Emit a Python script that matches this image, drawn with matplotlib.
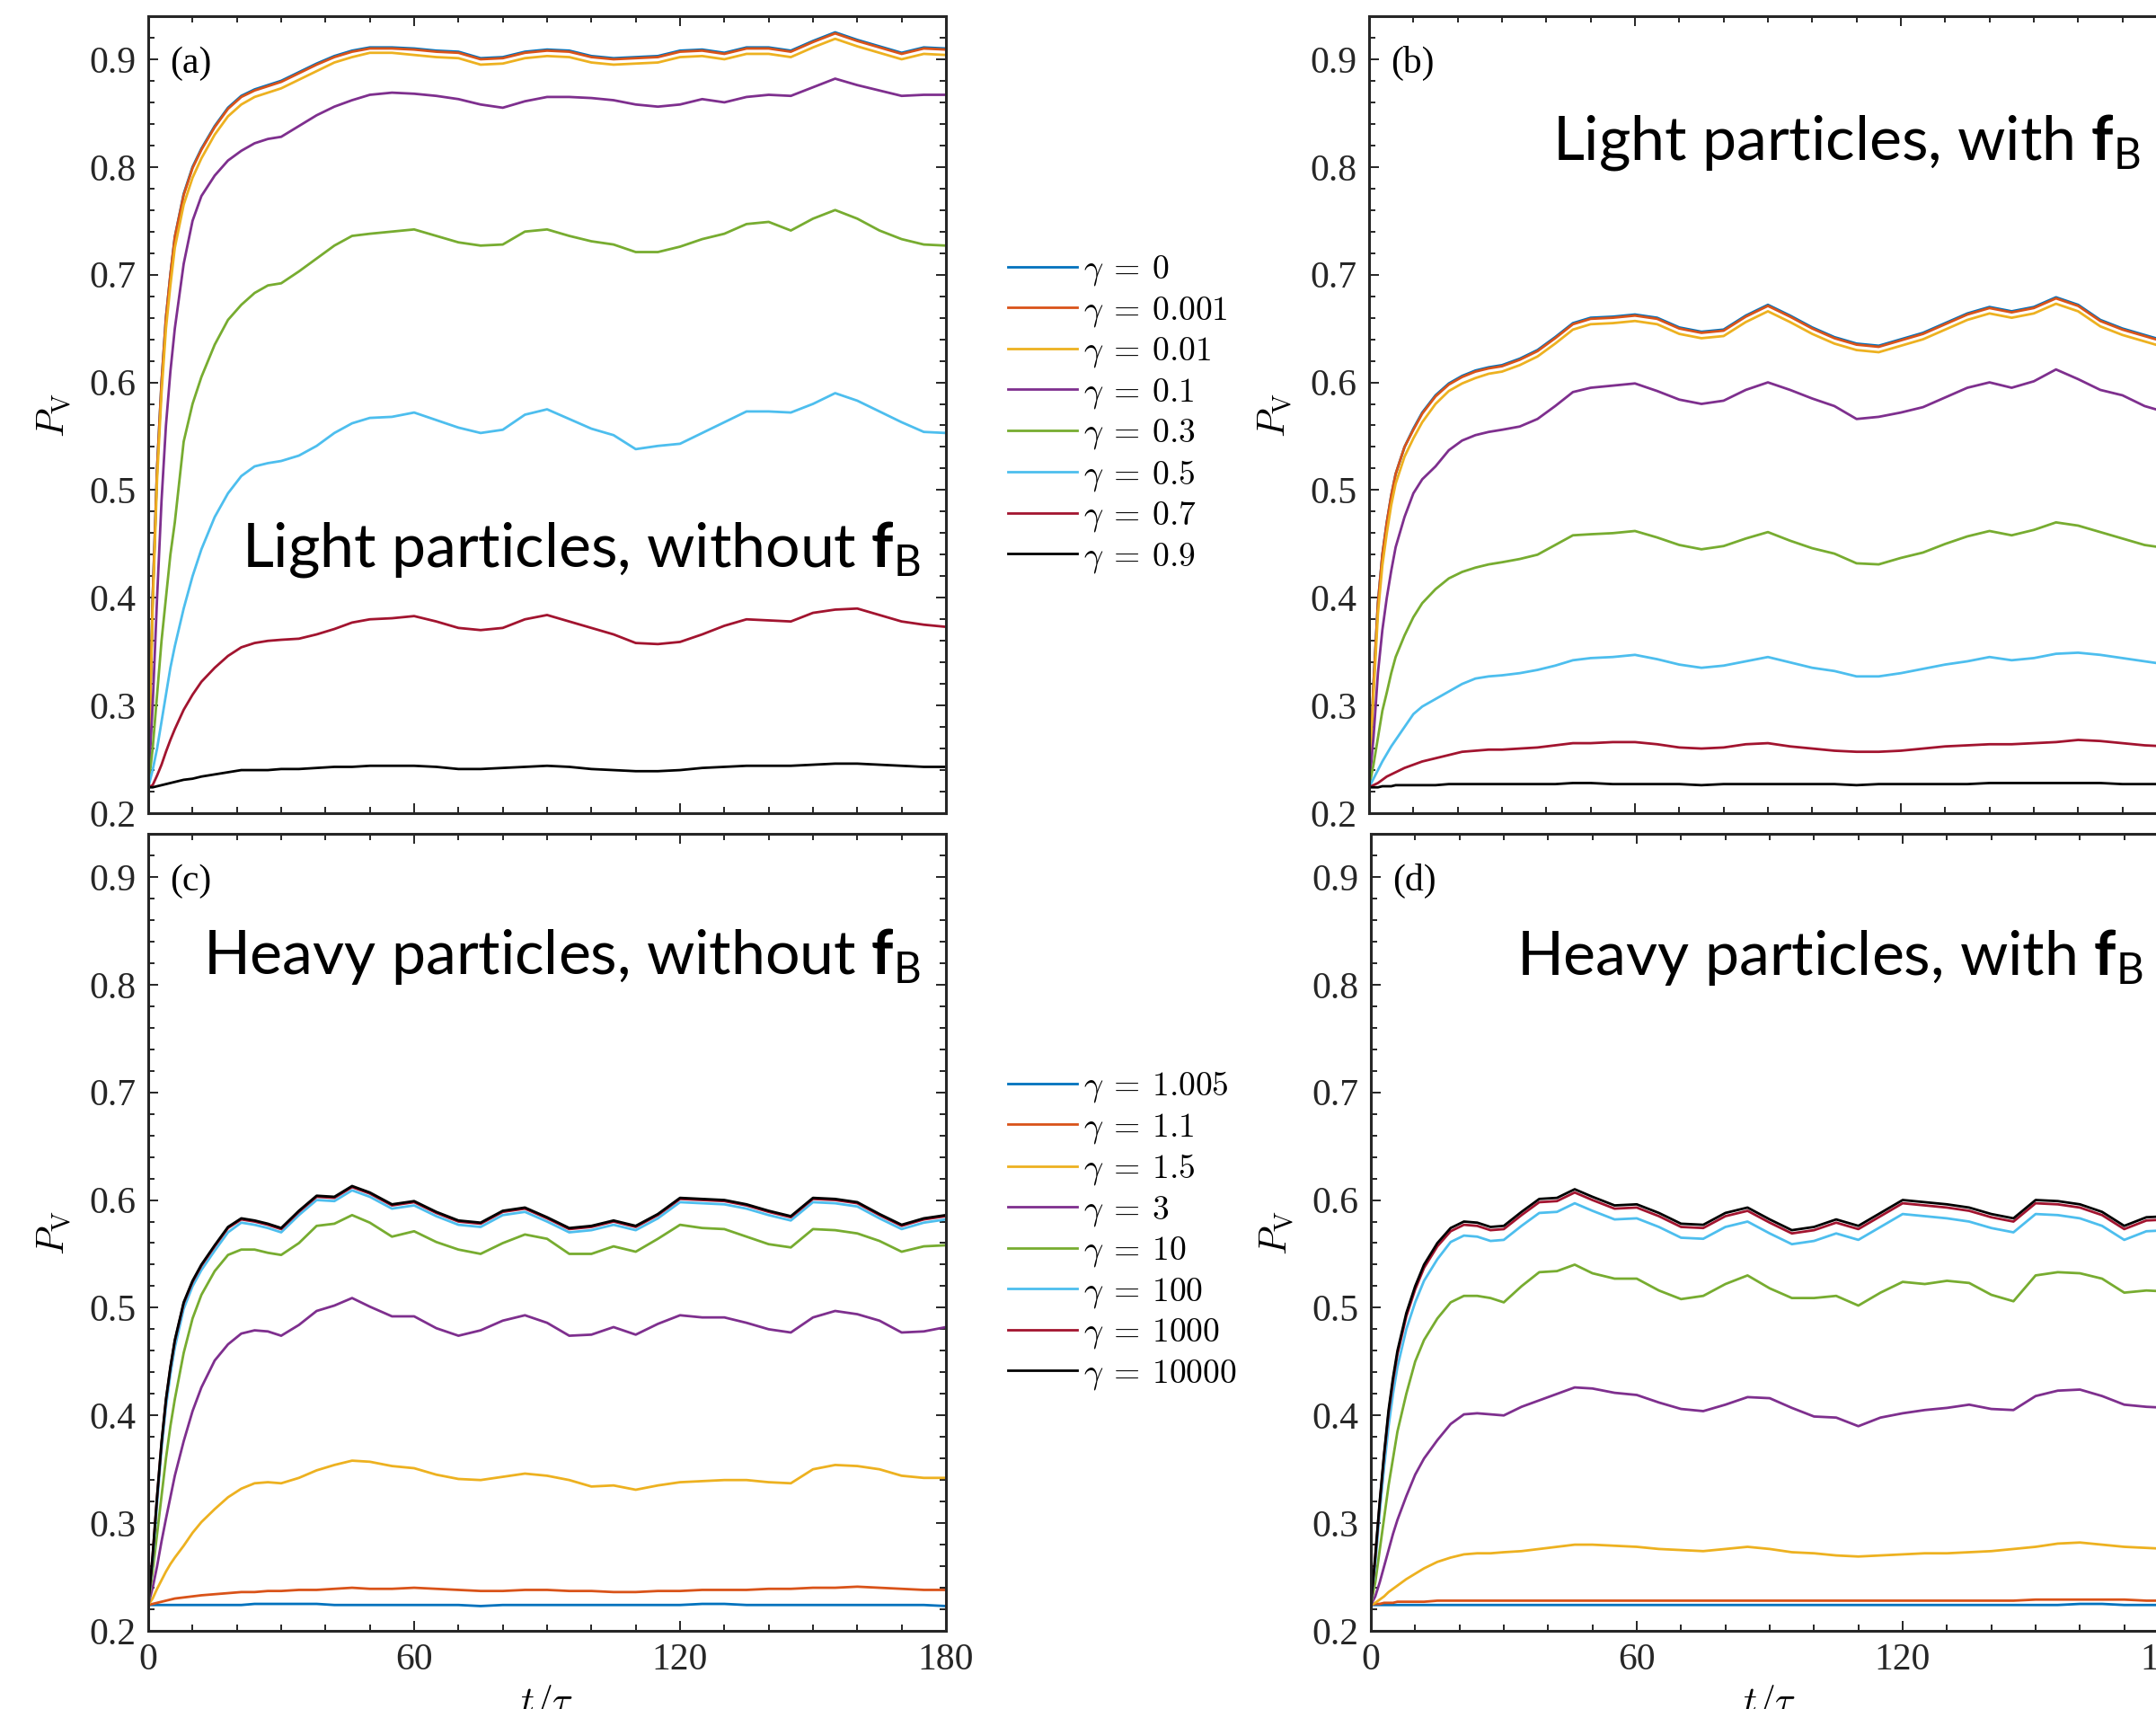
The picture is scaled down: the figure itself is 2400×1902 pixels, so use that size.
import matplotlib
matplotlib.use('Agg')
import matplotlib.pyplot as plt
from matplotlib.ticker import MultipleLocator

# time axis t/tau shared by every curve
t = [0, 1, 2, 3, 4, 5, 6, 8, 10, 12, 15, 18, 21, 24, 27, 30, 34, 38, 42, 46,
     50, 55, 60, 65, 70, 75, 80, 85, 90, 95, 100, 105, 110, 115, 120, 125, 130,
     135, 140, 145, 150, 155, 160, 165, 170, 175, 180]

# line colours (same order as the legend entries)
colors = ['#0072BD', '#D95319', '#EDB120', '#7E2F8E', '#77AC30', '#4DBEEE', '#A2142F', '#000000']

light_gammas = ['0', '0.001', '0.01', '0.1', '0.3', '0.5', '0.7', '0.9']
heavy_gammas = ['1.005', '1.1', '1.5', '3', '10', '100', '1000', '10000']

# (a) light particles, without f_B
a_g0 = [0.224, 0.40, 0.52, 0.60, 0.66, 0.70, 0.735, 0.775, 0.80, 0.817, 0.838, 0.855, 0.866, 0.872, 0.876, 0.880, 0.888, 0.896, 0.903, 0.908,
        0.911, 0.911, 0.910, 0.908, 0.907, 0.901, 0.902, 0.907, 0.909, 0.908, 0.903, 0.901, 0.902, 0.903, 0.908, 0.909, 0.906, 0.911, 0.911, 0.908, 0.917, 0.925, 0.918, 0.912, 0.906, 0.911, 0.910]
a_g1 = [0.224, 0.40, 0.52, 0.60, 0.66, 0.70, 0.735, 0.774, 0.799, 0.816, 0.837, 0.854, 0.865, 0.871, 0.875, 0.879, 0.887, 0.895, 0.902, 0.907,
        0.910, 0.910, 0.909, 0.907, 0.906, 0.900, 0.901, 0.906, 0.908, 0.907, 0.902, 0.900, 0.901, 0.902, 0.907, 0.908, 0.905, 0.910, 0.910, 0.907, 0.916, 0.924, 0.917, 0.911, 0.905, 0.910, 0.909]
a_g2 = [0.224, 0.39, 0.51, 0.59, 0.65, 0.69, 0.725, 0.765, 0.79, 0.808, 0.830, 0.847, 0.858, 0.865, 0.869, 0.873, 0.881, 0.889, 0.897, 0.902,
        0.906, 0.906, 0.904, 0.902, 0.901, 0.895, 0.896, 0.901, 0.903, 0.902, 0.897, 0.895, 0.896, 0.897, 0.902, 0.903, 0.900, 0.905, 0.905, 0.902, 0.911, 0.919, 0.912, 0.906, 0.900, 0.905, 0.904]
a_g3 = [0.224, 0.30, 0.40, 0.49, 0.56, 0.61, 0.65, 0.71, 0.75, 0.773, 0.792, 0.806, 0.815, 0.822, 0.826, 0.828, 0.838, 0.848, 0.856, 0.862,
        0.867, 0.869, 0.868, 0.866, 0.863, 0.858, 0.855, 0.861, 0.865, 0.865, 0.864, 0.862, 0.858, 0.856, 0.858, 0.863, 0.860, 0.865, 0.867, 0.866, 0.874, 0.882, 0.876, 0.871, 0.866, 0.867, 0.867]
a_g4 = [0.224, 0.26, 0.31, 0.36, 0.40, 0.44, 0.47, 0.545, 0.58, 0.605, 0.635, 0.658, 0.672, 0.683, 0.690, 0.692, 0.703, 0.715, 0.727, 0.736,
        0.738, 0.740, 0.742, 0.736, 0.730, 0.727, 0.728, 0.740, 0.742, 0.736, 0.731, 0.728, 0.721, 0.721, 0.726, 0.733, 0.738, 0.747, 0.749, 0.741, 0.752, 0.760, 0.752, 0.741, 0.733, 0.728, 0.727]
a_g5 = [0.224, 0.24, 0.26, 0.285, 0.31, 0.335, 0.355, 0.39, 0.42, 0.445, 0.475, 0.497, 0.513, 0.522, 0.525, 0.527, 0.532, 0.541, 0.553, 0.562,
        0.567, 0.568, 0.572, 0.565, 0.558, 0.553, 0.556, 0.570, 0.575, 0.566, 0.557, 0.551, 0.538, 0.541, 0.543, 0.553, 0.563, 0.573, 0.573, 0.572, 0.580, 0.590, 0.583, 0.573, 0.563, 0.554, 0.553]
a_g6 = [0.224, 0.226, 0.235, 0.245, 0.257, 0.268, 0.278, 0.296, 0.310, 0.322, 0.335, 0.346, 0.354, 0.358, 0.360, 0.361, 0.362, 0.366, 0.371, 0.377,
        0.380, 0.381, 0.383, 0.378, 0.372, 0.370, 0.372, 0.380, 0.384, 0.378, 0.372, 0.366, 0.358, 0.357, 0.359, 0.366, 0.374, 0.380, 0.379, 0.378, 0.386, 0.389, 0.390, 0.384, 0.378, 0.375, 0.373]
a_g7 = [0.224, 0.224, 0.225, 0.226, 0.227, 0.228, 0.229, 0.231, 0.232, 0.234, 0.236, 0.238, 0.240, 0.240, 0.240, 0.241, 0.241, 0.242, 0.243, 0.243,
        0.244, 0.244, 0.244, 0.243, 0.241, 0.241, 0.242, 0.243, 0.244, 0.243, 0.241, 0.240, 0.239, 0.239, 0.240, 0.242, 0.243, 0.244, 0.244, 0.244, 0.245, 0.246, 0.246, 0.245, 0.244, 0.243, 0.243]

# (b) light particles, with f_B
b_g0 = [0.224, 0.32, 0.395, 0.44, 0.47, 0.495, 0.515, 0.54, 0.557, 0.572, 0.588, 0.599, 0.606, 0.611, 0.614, 0.616, 0.622, 0.630, 0.642, 0.655,
        0.660, 0.661, 0.663, 0.660, 0.651, 0.647, 0.649, 0.662, 0.672, 0.662, 0.651, 0.642, 0.636, 0.634, 0.640, 0.646, 0.655, 0.664, 0.670, 0.666, 0.670, 0.679, 0.672, 0.658, 0.650, 0.644, 0.638]
b_g1 = [0.224, 0.32, 0.395, 0.44, 0.47, 0.495, 0.515, 0.54, 0.556, 0.571, 0.587, 0.598, 0.605, 0.610, 0.613, 0.615, 0.621, 0.629, 0.641, 0.654,
        0.659, 0.660, 0.662, 0.659, 0.650, 0.646, 0.648, 0.661, 0.671, 0.661, 0.650, 0.641, 0.635, 0.633, 0.639, 0.645, 0.654, 0.663, 0.669, 0.665, 0.669, 0.678, 0.671, 0.657, 0.649, 0.643, 0.637]
b_g2 = [0.224, 0.31, 0.385, 0.43, 0.46, 0.486, 0.506, 0.531, 0.548, 0.563, 0.580, 0.592, 0.599, 0.604, 0.608, 0.610, 0.616, 0.624, 0.636, 0.649,
        0.654, 0.655, 0.657, 0.654, 0.645, 0.641, 0.643, 0.656, 0.666, 0.656, 0.645, 0.636, 0.630, 0.628, 0.634, 0.640, 0.649, 0.658, 0.664, 0.660, 0.664, 0.673, 0.666, 0.652, 0.644, 0.638, 0.632]
b_g3 = [0.224, 0.27, 0.33, 0.37, 0.40, 0.425, 0.447, 0.475, 0.497, 0.51, 0.522, 0.537, 0.546, 0.551, 0.554, 0.556, 0.559, 0.566, 0.578, 0.591,
        0.595, 0.597, 0.599, 0.592, 0.584, 0.580, 0.583, 0.593, 0.600, 0.593, 0.585, 0.578, 0.566, 0.568, 0.572, 0.577, 0.586, 0.595, 0.600, 0.595, 0.601, 0.612, 0.603, 0.593, 0.588, 0.578, 0.572]
b_g4 = [0.224, 0.245, 0.27, 0.295, 0.312, 0.33, 0.345, 0.365, 0.382, 0.395, 0.408, 0.418, 0.424, 0.428, 0.431, 0.433, 0.436, 0.440, 0.449, 0.458,
        0.459, 0.460, 0.462, 0.456, 0.449, 0.445, 0.448, 0.455, 0.461, 0.453, 0.446, 0.441, 0.432, 0.431, 0.437, 0.442, 0.450, 0.457, 0.462, 0.458, 0.463, 0.470, 0.467, 0.461, 0.455, 0.449, 0.446]
b_g5 = [0.224, 0.232, 0.240, 0.248, 0.255, 0.262, 0.268, 0.280, 0.292, 0.299, 0.306, 0.313, 0.320, 0.325, 0.327, 0.328, 0.330, 0.333, 0.337, 0.342,
        0.344, 0.345, 0.347, 0.343, 0.338, 0.335, 0.337, 0.341, 0.345, 0.340, 0.335, 0.332, 0.327, 0.327, 0.330, 0.334, 0.338, 0.341, 0.345, 0.342, 0.344, 0.348, 0.349, 0.347, 0.344, 0.341, 0.338]
b_g6 = [0.224, 0.226, 0.228, 0.231, 0.234, 0.236, 0.238, 0.242, 0.245, 0.248, 0.251, 0.254, 0.257, 0.258, 0.259, 0.259, 0.260, 0.261, 0.263, 0.265,
        0.265, 0.266, 0.266, 0.264, 0.261, 0.260, 0.261, 0.264, 0.265, 0.262, 0.260, 0.258, 0.257, 0.257, 0.258, 0.260, 0.262, 0.263, 0.264, 0.264, 0.265, 0.266, 0.268, 0.267, 0.265, 0.263, 0.262]
b_g7 = [0.224, 0.224, 0.224, 0.225, 0.225, 0.225, 0.226, 0.226, 0.226, 0.226, 0.226, 0.227, 0.227, 0.227, 0.227, 0.227, 0.227, 0.227, 0.227, 0.228,
        0.228, 0.227, 0.227, 0.227, 0.227, 0.226, 0.227, 0.227, 0.227, 0.227, 0.227, 0.227, 0.226, 0.227, 0.227, 0.227, 0.227, 0.227, 0.228, 0.228, 0.228, 0.228, 0.228, 0.228, 0.227, 0.227, 0.227]

# (c) heavy particles, without f_B
c_g0 = [0.224, 0.224, 0.224, 0.224, 0.224, 0.224, 0.224, 0.224, 0.224, 0.224, 0.224, 0.224, 0.224, 0.225, 0.225, 0.225, 0.225, 0.225, 0.224, 0.224,
        0.224, 0.224, 0.224, 0.224, 0.224, 0.223, 0.224, 0.224, 0.224, 0.224, 0.224, 0.224, 0.224, 0.224, 0.224, 0.225, 0.225, 0.224, 0.224, 0.224, 0.224, 0.224, 0.224, 0.224, 0.224, 0.224, 0.223]
c_g1 = [0.224, 0.225, 0.226, 0.227, 0.228, 0.229, 0.230, 0.231, 0.232, 0.233, 0.234, 0.235, 0.236, 0.236, 0.237, 0.237, 0.238, 0.238, 0.239, 0.240,
        0.239, 0.239, 0.240, 0.239, 0.238, 0.237, 0.237, 0.238, 0.238, 0.237, 0.237, 0.236, 0.236, 0.237, 0.237, 0.238, 0.238, 0.238, 0.239, 0.239, 0.240, 0.240, 0.241, 0.240, 0.239, 0.238, 0.238]
c_g2 = [0.224, 0.23, 0.239, 0.247, 0.255, 0.262, 0.268, 0.279, 0.291, 0.301, 0.313, 0.324, 0.332, 0.337, 0.338, 0.337, 0.342, 0.349, 0.354, 0.358,
        0.357, 0.353, 0.351, 0.345, 0.341, 0.340, 0.343, 0.346, 0.344, 0.340, 0.334, 0.335, 0.331, 0.335, 0.338, 0.339, 0.340, 0.340, 0.338, 0.337, 0.350, 0.354, 0.353, 0.350, 0.344, 0.342, 0.342]
c_g3 = [0.224, 0.24, 0.26, 0.283, 0.304, 0.324, 0.344, 0.376, 0.404, 0.426, 0.451, 0.466, 0.476, 0.479, 0.478, 0.474, 0.484, 0.497, 0.502, 0.509,
        0.501, 0.492, 0.492, 0.481, 0.474, 0.479, 0.488, 0.493, 0.486, 0.474, 0.475, 0.482, 0.475, 0.485, 0.493, 0.491, 0.491, 0.486, 0.480, 0.477, 0.491, 0.497, 0.494, 0.488, 0.477, 0.478, 0.482]
c_g4 = [0.224, 0.255, 0.29, 0.325, 0.36, 0.39, 0.415, 0.458, 0.49, 0.512, 0.534, 0.549, 0.554, 0.554, 0.551, 0.549, 0.560, 0.576, 0.578, 0.586,
        0.579, 0.566, 0.571, 0.561, 0.554, 0.550, 0.560, 0.568, 0.564, 0.550, 0.550, 0.557, 0.552, 0.564, 0.577, 0.574, 0.573, 0.566, 0.559, 0.556, 0.573, 0.572, 0.569, 0.562, 0.552, 0.557, 0.558]
c_g5 = [0.224, 0.265, 0.318, 0.368, 0.408, 0.438, 0.463, 0.499, 0.520, 0.535, 0.553, 0.570, 0.579, 0.577, 0.574, 0.570, 0.586, 0.600, 0.599, 0.609,
        0.603, 0.592, 0.595, 0.585, 0.577, 0.575, 0.586, 0.589, 0.580, 0.570, 0.572, 0.577, 0.572, 0.583, 0.598, 0.597, 0.596, 0.592, 0.586, 0.581, 0.598, 0.597, 0.594, 0.583, 0.573, 0.579, 0.582]
c_g6 = [0.224, 0.27, 0.324, 0.374, 0.414, 0.444, 0.469, 0.504, 0.524, 0.539, 0.557, 0.574, 0.582, 0.580, 0.577, 0.573, 0.589, 0.603, 0.602, 0.612,
        0.606, 0.595, 0.598, 0.588, 0.580, 0.578, 0.589, 0.592, 0.583, 0.573, 0.575, 0.580, 0.575, 0.586, 0.601, 0.600, 0.599, 0.595, 0.589, 0.584, 0.601, 0.600, 0.597, 0.586, 0.576, 0.582, 0.585]
c_g7 = [0.224, 0.27, 0.325, 0.375, 0.415, 0.445, 0.47, 0.505, 0.525, 0.54, 0.558, 0.575, 0.583, 0.581, 0.578, 0.574, 0.590, 0.604, 0.603, 0.613,
        0.607, 0.596, 0.599, 0.589, 0.581, 0.579, 0.590, 0.593, 0.584, 0.574, 0.576, 0.581, 0.576, 0.587, 0.602, 0.601, 0.600, 0.596, 0.590, 0.585, 0.602, 0.601, 0.598, 0.587, 0.577, 0.583, 0.586]

# (d) heavy particles, with f_B
d_g0 = [0.224, 0.224, 0.224, 0.224, 0.224, 0.224, 0.224, 0.224, 0.224, 0.224, 0.224, 0.224, 0.224, 0.224, 0.224, 0.224, 0.224, 0.224, 0.224, 0.224,
        0.224, 0.224, 0.224, 0.224, 0.224, 0.224, 0.224, 0.224, 0.224, 0.224, 0.224, 0.224, 0.224, 0.224, 0.224, 0.224, 0.224, 0.224, 0.224, 0.224, 0.224, 0.224, 0.225, 0.225, 0.224, 0.224, 0.224]
d_g1 = [0.224, 0.225, 0.225, 0.226, 0.226, 0.226, 0.227, 0.227, 0.227, 0.227, 0.228, 0.228, 0.228, 0.228, 0.228, 0.228, 0.228, 0.228, 0.228, 0.228,
        0.228, 0.228, 0.228, 0.228, 0.228, 0.228, 0.228, 0.228, 0.228, 0.228, 0.228, 0.228, 0.228, 0.228, 0.228, 0.228, 0.228, 0.228, 0.228, 0.228, 0.229, 0.229, 0.229, 0.229, 0.229, 0.228, 0.228]
d_g2 = [0.224, 0.226, 0.229, 0.232, 0.236, 0.239, 0.242, 0.248, 0.253, 0.258, 0.264, 0.268, 0.271, 0.272, 0.272, 0.273, 0.274, 0.276, 0.278, 0.280,
        0.280, 0.279, 0.278, 0.276, 0.275, 0.274, 0.276, 0.278, 0.276, 0.273, 0.272, 0.270, 0.269, 0.270, 0.271, 0.272, 0.272, 0.273, 0.274, 0.276, 0.278, 0.281, 0.282, 0.280, 0.278, 0.277, 0.276]
d_g3 = [0.224, 0.232, 0.245, 0.26, 0.275, 0.29, 0.303, 0.325, 0.345, 0.36, 0.377, 0.392, 0.401, 0.402, 0.401, 0.400, 0.408, 0.414, 0.420, 0.426,
        0.425, 0.421, 0.419, 0.412, 0.406, 0.404, 0.410, 0.417, 0.416, 0.407, 0.399, 0.398, 0.390, 0.398, 0.402, 0.405, 0.407, 0.410, 0.406, 0.405, 0.418, 0.423, 0.424, 0.418, 0.410, 0.408, 0.407]
d_g4 = [0.224, 0.245, 0.275, 0.305, 0.335, 0.36, 0.385, 0.42, 0.45, 0.47, 0.49, 0.505, 0.511, 0.511, 0.509, 0.505, 0.520, 0.533, 0.534, 0.540,
        0.532, 0.527, 0.527, 0.516, 0.508, 0.511, 0.522, 0.530, 0.518, 0.509, 0.509, 0.511, 0.502, 0.514, 0.524, 0.522, 0.525, 0.523, 0.512, 0.506, 0.530, 0.533, 0.532, 0.527, 0.514, 0.516, 0.515]
d_g5 = [0.224, 0.262, 0.31, 0.352, 0.39, 0.42, 0.445, 0.48, 0.505, 0.525, 0.545, 0.561, 0.567, 0.566, 0.562, 0.563, 0.576, 0.588, 0.589, 0.597,
        0.590, 0.582, 0.583, 0.575, 0.565, 0.564, 0.575, 0.580, 0.569, 0.559, 0.562, 0.569, 0.563, 0.575, 0.587, 0.585, 0.583, 0.580, 0.574, 0.570, 0.587, 0.586, 0.583, 0.576, 0.563, 0.571, 0.572]
d_g6 = [0.224, 0.268, 0.318, 0.363, 0.402, 0.432, 0.457, 0.492, 0.517, 0.537, 0.557, 0.571, 0.577, 0.576, 0.572, 0.573, 0.586, 0.598, 0.599, 0.607,
        0.600, 0.592, 0.593, 0.585, 0.575, 0.574, 0.585, 0.590, 0.579, 0.569, 0.572, 0.579, 0.573, 0.585, 0.597, 0.595, 0.593, 0.590, 0.584, 0.580, 0.597, 0.596, 0.593, 0.586, 0.573, 0.581, 0.582]
d_g7 = [0.224, 0.27, 0.32, 0.365, 0.405, 0.435, 0.46, 0.495, 0.52, 0.54, 0.56, 0.574, 0.580, 0.579, 0.575, 0.576, 0.589, 0.601, 0.602, 0.610,
        0.603, 0.595, 0.596, 0.588, 0.578, 0.577, 0.588, 0.593, 0.582, 0.572, 0.575, 0.582, 0.576, 0.588, 0.600, 0.598, 0.596, 0.593, 0.587, 0.583, 0.600, 0.599, 0.596, 0.589, 0.576, 0.584, 0.585]

plt.rcParams['font.family'] = 'Liberation Serif'
plt.rcParams['mathtext.fontset'] = 'custom'
plt.rcParams['mathtext.rm'] = 'Lato'
plt.rcParams['mathtext.bf'] = 'Lato:bold'
plt.rcParams['mathtext.it'] = 'Lato:italic'

fig = plt.figure(figsize=(12, 9.51), dpi=200)

# axes placed to match the cropped layout of the original figure
ax_a = fig.add_axes([0.06875, 0.52418, 0.37, 0.46635])
ax_b = fig.add_axes([0.635, 0.52418, 0.37, 0.46635])
ax_c = fig.add_axes([0.06875, 0.04574, 0.37, 0.46635])
ax_d = fig.add_axes([0.63583, 0.04574, 0.37, 0.46635])

panels = [
    (ax_a, [a_g0, a_g1, a_g2, a_g3, a_g4, a_g5, a_g6, a_g7], '(a)', r'Light particles, without $\mathbf{f}_{\mathrm{B}}$', 0.309),
    (ax_b, [b_g0, b_g1, b_g2, b_g3, b_g4, b_g5, b_g6, b_g7], '(b)', r'Light particles, with $\mathbf{f}_{\mathrm{B}}$', 0.820),
    (ax_c, [c_g0, c_g1, c_g2, c_g3, c_g4, c_g5, c_g6, c_g7], '(c)', r'Heavy particles, without $\mathbf{f}_{\mathrm{B}}$', 0.824),
    (ax_d, [d_g0, d_g1, d_g2, d_g3, d_g4, d_g5, d_g6, d_g7], '(d)', r'Heavy particles, with $\mathbf{f}_{\mathrm{B}}$', 0.823),
]

for ax, curves, letter, title, title_y in panels:
    for i, y in enumerate(curves):
        ax.plot(t, y, color=colors[i], lw=1.0)
    ax.set_xlim(0, 180)
    ax.set_ylim(0.2, 0.94)
    ax.xaxis.set_major_locator(MultipleLocator(60))
    ax.xaxis.set_minor_locator(MultipleLocator(10))
    ax.yaxis.set_major_locator(MultipleLocator(0.1))
    ax.yaxis.set_minor_locator(MultipleLocator(0.02))
    ax.tick_params(which='both', direction='in', top=True, right=True, width=0.7,
                   colors='#262626', labelsize=15, pad=5)
    ax.tick_params(which='major', length=4)
    ax.tick_params(which='minor', length=2.6)
    for s in ax.spines.values():
        s.set_linewidth(1.1)
        s.set_color('#262626')
    ax.set_ylabel(r'$P_{\rm V}$', fontsize=15, math_fontfamily='cm', labelpad=6)
    ax.text(0.027, 0.941, letter, transform=ax.transAxes, fontsize=15, va='center', ha='left')
    ax.text(0.968, title_y, title, transform=ax.transAxes, fontsize=24.5, family='Lato',
            ha='right', va='baseline')

# top row has no x tick labels
ax_a.tick_params(labelbottom=False)
ax_b.tick_params(labelbottom=False)
ax_c.set_xlabel(r'$t/\tau$', fontsize=15, math_fontfamily='cm', labelpad=2)
ax_d.set_xlabel(r'$t/\tau$', fontsize=15, math_fontfamily='cm', labelpad=2)

# legends sit in the gap between the two columns
for ax, gammas, ly in [(ax_a, light_gammas, 0.7575), (ax_c, heavy_gammas, 0.2800)]:
    labels = [r'$\gamma \:=\: ' + g + '$' for g in gammas]
    leg = ax.legend(ax.get_lines(), labels, loc='center left', bbox_to_anchor=(0.4675, ly),
                    bbox_transform=fig.transFigure, frameon=False, fontsize=13.5,
                    handlelength=2.05, handletextpad=0.2, labelspacing=0.2,
                    borderpad=0, borderaxespad=0)
    for txt in leg.get_texts():
        txt.set_math_fontfamily('cm')

fig.savefig('out.png', dpi=200)
